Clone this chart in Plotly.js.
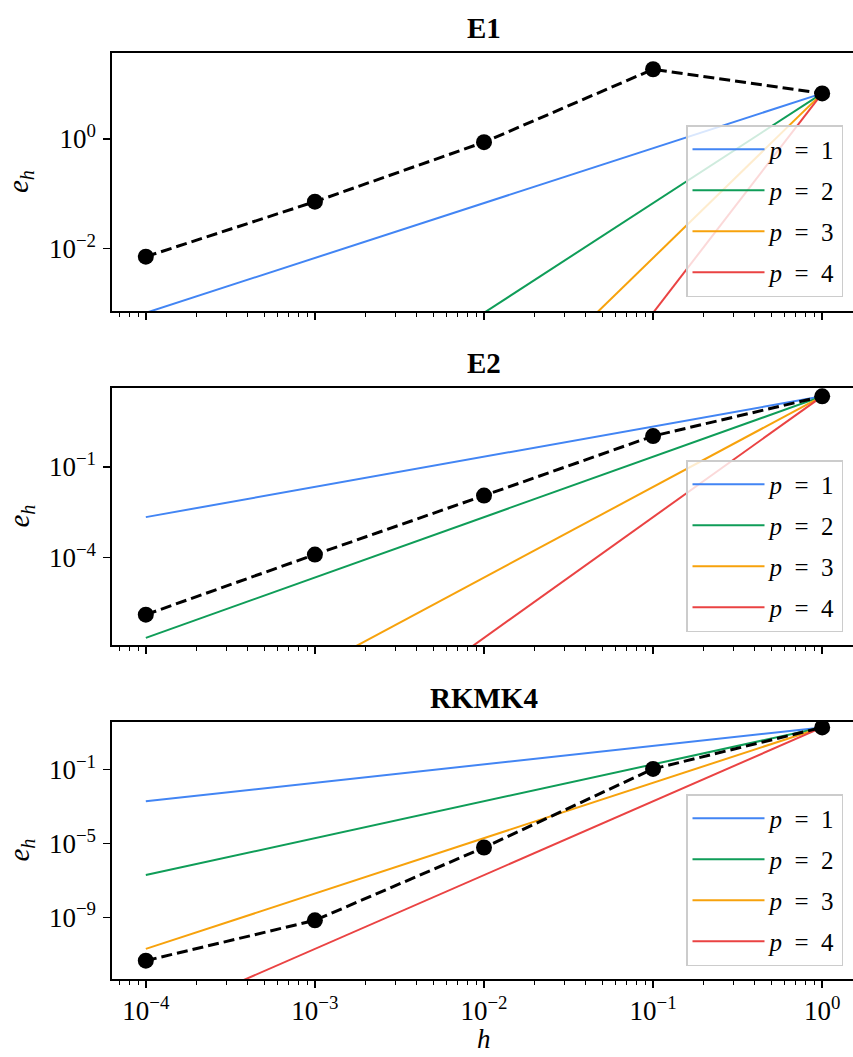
<!DOCTYPE html>
<html>
<head>
<meta charset="utf-8">
<script src="https://cdn.plot.ly/plotly-3.0.1.min.js"></script>
<style>html,body{margin:0;padding:0;overflow:hidden;background:#fff}</style>
</head>
<body>
<div id="chart" style="width:856px;height:1057px"></div>
<script>
// step sizes
const h = [1e-4, 1e-3, 1e-2, 1e-1, 1];

// measured errors
const errE1    = [0.0071, 0.0714, 0.867, 18.5, 6.73];
const errE2    = [1.29e-6, 1.26e-4, 0.0113, 1.06, 21.9];
const errRKMK4 = [4.5e-12, 6.9e-10, 6.07e-6, 0.11, 19.5];

// reference slopes (C*h^p, anchored at h = 1)
const refE1_p1 = [6.73e-4, 6.73e-3, 6.73e-2, 0.673, 6.73];
const refE1_p2 = [6.73e-8, 6.73e-6, 6.73e-4, 6.73e-2, 6.73];
const refE1_p3 = [6.73e-12, 6.73e-9, 6.73e-6, 6.73e-3, 6.73];
const refE1_p4 = [6.73e-16, 6.73e-12, 6.73e-8, 6.73e-4, 6.73];

const refE2_p1 = [2.19e-3, 2.19e-2, 0.219, 2.19, 21.9];
const refE2_p2 = [2.19e-7, 2.19e-5, 2.19e-3, 0.219, 21.9];
const refE2_p3 = [2.19e-11, 2.19e-8, 2.19e-5, 2.19e-2, 21.9];
const refE2_p4 = [2.19e-15, 2.19e-11, 2.19e-7, 2.19e-3, 21.9];

const refRK_p1 = [1.95e-3, 1.95e-2, 0.195, 1.95, 19.5];
const refRK_p2 = [1.95e-7, 1.95e-5, 1.95e-3, 0.195, 19.5];
const refRK_p3 = [1.95e-11, 1.95e-8, 1.95e-5, 1.95e-2, 19.5];
const refRK_p4 = [1.95e-15, 1.95e-11, 1.95e-7, 1.95e-3, 19.5];

const panelTitles = ['E1', 'E2', 'RKMK4'];
const legendNames = ['<i>p</i>\u2002=\u20021', '<i>p</i>\u2002=\u20022', '<i>p</i>\u2002=\u20023', '<i>p</i>\u2002=\u20024'];
const refColors = ['#4285F4', '#0F9D58', '#F7A20C', '#EA4343'];

const xTickVals = [1e-4, 1e-3, 1e-2, 1e-1, 1];
const xTickText = ['10<sup>−4</sup>', '10<sup>−3</sup>', '10<sup>−2</sup>', '10<sup>−1</sup>', '10<sup>0</sup>'];
const yTickVals1 = [1, 1e-2];
const yTickText1 = ['10<sup>0</sup>', '10<sup>−2</sup>'];
const yTickVals2 = [1e-1, 1e-4];
const yTickText2 = ['10<sup>−1</sup>', '10<sup>−4</sup>'];
const yTickVals3 = [1e-1, 1e-5, 1e-9];
const yTickText3 = ['10<sup>−1</sup>', '10<sup>−5</sup>', '10<sup>−9</sup>'];

const FONT = 'Liberation Serif';

const panels = [
  {err: errE1, refs: [refE1_p1, refE1_p2, refE1_p3, refE1_p4]},
  {err: errE2, refs: [refE2_p1, refE2_p2, refE2_p3, refE2_p4]},
  {err: errRKMK4, refs: [refRK_p1, refRK_p2, refRK_p3, refRK_p4]}
];

const traces = [];
panels.forEach((pn, i) => {
  const sfx = i === 0 ? '' : String(i + 1);
  pn.refs.forEach((r, k) => {
    traces.push({
      x: h, y: r, type: 'scatter', mode: 'lines',
      name: legendNames[k],
      line: {color: refColors[k], width: 2},
      xaxis: 'x' + sfx, yaxis: 'y' + sfx,
      legend: 'legend' + sfx,
      legendgroup: 'g' + i + '_' + k,
      hoverinfo: 'skip'
    });
  });
  traces.push({
    x: h, y: pn.err, type: 'scatter', mode: 'lines+markers',
    line: {color: '#000', width: 3, dash: '11px,5px'},
    marker: {color: '#000', size: 16},
    xaxis: 'x' + sfx, yaxis: 'y' + sfx,
    showlegend: false, hoverinfo: 'skip'
  });
});

// minor tick positions for log x axis
const minorX = [];
for (let e = -5; e <= 0; e++) {
  for (let m = 2; m <= 9; m++) minorX.push(m * Math.pow(10, e));
}

const W = 856, H = 1057;
const xDom = [112 / W, 1];
const yDoms = [
  [1 - 311 / H, 1 - 53 / H],
  [1 - 645 / H, 1 - 388 / H],
  [1 - 979 / H, 1 - 722 / H]
];
const yRanges = [[-3.139, 1.564], [-6.894, 1.616], [-12.34, 1.584]];
const yTicks = [[yTickVals1, yTickText1], [yTickVals2, yTickText2], [yTickVals3, yTickText3]];
const legendTops = [125, 460, 794];

const layout = {
  width: W, height: H,
  margin: {l: 0, r: 0, t: 0, b: 0},
  paper_bgcolor: '#fff', plot_bgcolor: '#fff',
  font: {family: FONT, color: '#000', size: 26},
  showlegend: true,
  annotations: [],
  shapes: []
};

for (let i = 0; i < 3; i++) {
  const sfx = i === 0 ? '' : String(i + 1);
  layout['xaxis' + sfx] = {
    type: 'log', range: [-4.2, 0.2], domain: xDom,
    anchor: 'y' + sfx,
    showline: true, mirror: true, linecolor: '#000', linewidth: 1.6,
    showgrid: false, zeroline: false,
    tickmode: 'array', tickvals: xTickVals, ticktext: xTickText,
    ticks: 'outside', ticklen: 7, tickwidth: 1.4, tickcolor: '#000',
    showticklabels: i === 2,
    tickfont: {family: FONT, size: 27, color: '#000'},
    minor: {tickmode: 'array', tickvals: minorX, ticks: 'outside', ticklen: 4, tickwidth: 1, tickcolor: '#000', showgrid: false},
    automargin: false, fixedrange: true
  };
  layout['yaxis' + sfx] = {
    type: 'log', range: yRanges[i], domain: yDoms[i],
    anchor: 'x' + sfx,
    showline: true, mirror: true, linecolor: '#000', linewidth: 1.6,
    showgrid: false, zeroline: false,
    tickmode: 'array', tickvals: yTicks[i][0], ticktext: yTicks[i][1],
    ticks: 'outside', ticklen: 7, tickwidth: 1.4, tickcolor: '#000',
    ticklabelstandoff: 2,
    tickfont: {family: FONT, size: 27, color: '#000'},
    automargin: false, fixedrange: true
  };
  layout['legend' + sfx] = {
    x: 686 / W, y: 1 - legendTops[i] / H, xanchor: 'left', yanchor: 'top',
    bgcolor: 'rgba(255,255,255,0.8)', bordercolor: '#cccccc', borderwidth: 1.5,
    font: {family: FONT, size: 25, color: '#000'},
    itemwidth: 72,
    tracegroupgap: 5.5, itemclick: false, itemdoubleclick: false
  };
  // panel title
  layout.annotations.push({
    text: '<b>' + panelTitles[i] + '</b>', xref: 'paper', yref: 'paper',
    x: (xDom[0] + xDom[1]) / 2, y: 1 - [28, 363, 698][i] / H,
    xanchor: 'center', yanchor: 'middle', showarrow: false,
    font: {family: FONT, size: 29, color: '#000'}
  });
  // y axis title
  layout.annotations.push({
    text: '<i>e</i><sub><i>h</i></sub>', xref: 'paper', yref: 'paper',
    x: 20 / W, y: (yDoms[i][0] + yDoms[i][1]) / 2,
    xanchor: 'center', yanchor: 'middle', showarrow: false, textangle: -90,
    font: {family: FONT, size: 29, color: '#000'}
  });
}
layout.annotations.push({
  text: '<i>h</i>', xref: 'paper', yref: 'paper',
  x: (xDom[0] + xDom[1]) / 2, y: 1 - 1039 / H,
  xanchor: 'center', yanchor: 'middle', showarrow: false,
  font: {family: FONT, size: 27, color: '#000'}
});

Plotly.newPlot('chart', traces, layout, {staticPlot: true, displayModeBar: false});
</script>
</body>
</html>
